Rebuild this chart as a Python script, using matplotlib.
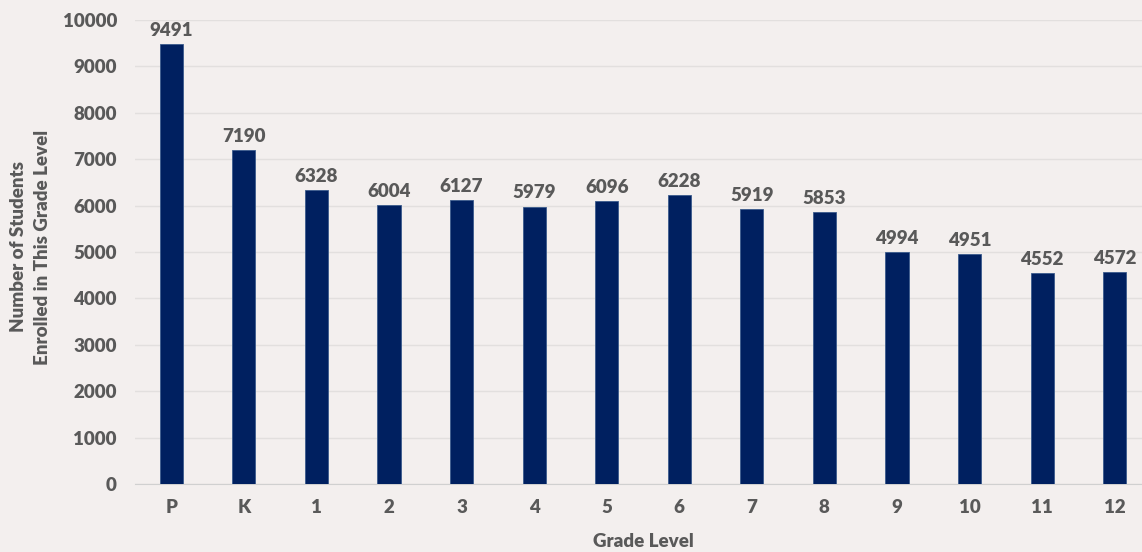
import matplotlib.pyplot as plt

# Enrollment by grade level
grades = ["P", "K", "1", "2", "3", "4", "5", "6", "7", "8", "9", "10", "11", "12"]
students = [9491, 7190, 6328, 6004, 6127, 5979, 6096, 6228, 5919, 5853, 4994, 4951, 4552, 4572]

bg = "#F3EFEE"
bar_color = "#002060"
text_color = "#595959"
fs = 13.5

plt.rcParams["font.family"] = ["Lato", "DejaVu Sans"]
plt.rcParams["font.weight"] = "heavy"

fig = plt.figure(figsize=(11.42, 5.52), dpi=100, facecolor=bg)
ax = fig.add_axes([135 / 1142, 68 / 552, 1016 / 1142, 464 / 552])
ax.set_facecolor(bg)

x = range(len(grades))
bars = ax.bar(x, students, width=0.32, color=bar_color, edgecolor="#3A5A8C", linewidth=0.6, zorder=3)

# value labels above bars
for xi, v in zip(x, students):
    ax.text(xi, v + 110, str(v), ha="center", va="bottom", fontsize=fs,
            fontweight="heavy", color=text_color)

ax.set_xlim(-0.5, 13.5)
ax.set_ylim(0, 10000)
ax.set_yticks(range(0, 10001, 1000))
ax.set_xticks(list(x))
ax.set_xticklabels(grades)

ax.grid(axis="y", color="#E2DFDE", linewidth=1, zorder=0)
for s in ["top", "right", "left"]:
    ax.spines[s].set_visible(False)
ax.spines["bottom"].set_color("#D0D0D0")
ax.tick_params(axis="both", length=0, labelsize=fs, labelcolor=text_color)
ax.tick_params(axis="x", pad=11)
ax.tick_params(axis="y", pad=13)
for lab in ax.get_xticklabels() + ax.get_yticklabels():
    lab.set_fontweight("heavy")

ax.set_xlabel("Grade Level", fontsize=fs, fontweight="heavy", color=text_color, labelpad=12)
fig.text(31 / 1142, (552 - 247) / 552, "Number of Students\nEnrolled in This Grade Level", rotation=90,
         ha="center", va="center", fontsize=fs, fontweight="heavy", color=text_color,
         multialignment="center", linespacing=1.5)

plt.savefig("out.png", dpi=100, facecolor=bg)
